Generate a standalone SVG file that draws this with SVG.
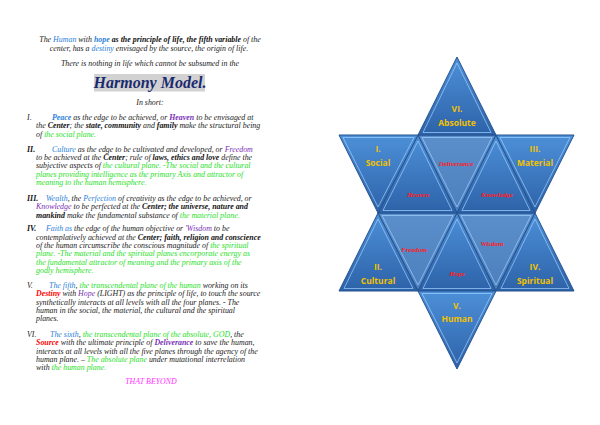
<svg xmlns="http://www.w3.org/2000/svg" width="600" height="425" viewBox="0 0 600 425">
<defs>
<linearGradient id="gOut" x1="0" y1="0" x2="0" y2="1">
<stop offset="0" stop-color="#4d90d8"/><stop offset="1" stop-color="#2d62a8"/>
</linearGradient>
<linearGradient id="gIn" x1="0" y1="0" x2="0" y2="1">
<stop offset="0" stop-color="#5b8fcb"/><stop offset="1" stop-color="#4c7fbd"/>
</linearGradient>
<style>
.t{font-family:"Liberation Serif",serif;font-style:italic;font-size:7.9px;fill:#222}
.c{text-anchor:middle}
.b{font-weight:bold;fill:#111}
.bl{fill:#2b82d9}
.pu{fill:#7b2fb5}
.gr{fill:#1fe01f}
.rd{fill:#ff0000}
.mg{fill:#ff33ff}
.tri{fill:url(#gOut);stroke:#24528f;stroke-width:1}
.inn{fill:url(#gIn);stroke:#24528f;stroke-width:1}
.hl{fill:none;stroke:#9fd0ff;stroke-width:1;opacity:0.7}
.lab{font-family:"Open Sans",sans-serif;font-weight:bold;font-size:8.5px;fill:#f2c200;text-anchor:middle}
.rl{font-family:"Liberation Serif",serif;font-style:italic;font-weight:bold;font-size:7px;fill:#ff1a1a;text-anchor:middle}
</style>
</defs>
<rect width="600" height="425" fill="#ffffff"/>

<g id="text">
<text class="t c" x="150" y="42">The <tspan class="bl">Human</tspan> with <tspan class="bl b">hope</tspan> <tspan class="b">as the principle of life, the fifth variable</tspan> of the</text>
<text class="t c" x="149" y="50.5">center, has a <tspan class="bl">destiny</tspan> envisaged by the source, the origin of life.</text>
<text class="t c" x="150" y="66">There is nothing in life which cannot be subsumed in the</text>
<rect x="94" y="74" width="111" height="17.5" fill="#d2d2d2"/>
<text x="150" y="88" text-anchor="middle" font-family="Liberation Serif,serif" font-style="italic" font-weight="bold" font-size="16" fill="#1a2a6e">Harmony Model.</text>
<text class="t c" x="150" y="105">In short:</text>

<text class="t" x="27" y="120">I.</text>
<text class="t" x="52" y="120"><tspan class="bl b">Peace</tspan> as the edge to be achieved, or <tspan class="pu b">Heaven</tspan> to be envisaged at</text>
<text class="t" x="36" y="128.3">the <tspan class="b">Center</tspan>; the <tspan class="b">state, community</tspan> and <tspan class="b">family</tspan> make the structural being</text>
<text class="t" x="36" y="136.6">of <tspan class="gr">the social plane.</tspan></text>

<text class="t b" x="27" y="151.8">II.</text>
<text class="t" x="52" y="151.8"><tspan class="bl">Culture</tspan> as the edge to be cultivated and developed, or <tspan class="pu">Freedom</tspan></text>
<text class="t" x="36" y="160">to be achieved at the <tspan class="b">Center</tspan>; rule of <tspan class="b">laws, ethics and love</tspan> define the</text>
<text class="t" x="36" y="168.3">subjective aspects of <tspan class="gr">the cultural plane. -The social and the cultural</tspan></text>
<text class="t gr" x="36" y="176.7">planes providing intelligence as the primary Axis and attractor of</text>
<text class="t gr" x="36" y="185">meaning to the human hemisphere.</text>

<text class="t b" x="27" y="200.8">III.</text>
<text class="t" x="46" y="200.8"><tspan class="bl">Wealth</tspan>, the <tspan class="bl">Perfection</tspan> of creativity as the edge to be achieved, or</text>
<text class="t" x="36" y="209.2"><tspan class="pu">Knowledge</tspan> to be perfected at the <tspan class="b">Center; the universe, nature and</tspan></text>
<text class="t" x="36" y="217.5"><tspan class="b">mankind</tspan> make the fundamental substance of <tspan class="gr">the material plane.</tspan></text>

<text class="t b" x="27" y="231.2">IV.</text>
<text class="t" x="46" y="231.2"><tspan class="bl">Faith as</tspan> the edge of the human objective or <tspan class="pu">'Wisdom</tspan> to be</text>
<text class="t" x="36" y="239.5">contemplatively achieved at the <tspan class="b">Center; faith, religion and conscience</tspan></text>
<text class="t" x="36" y="247.8">of the human circumscribe the conscious magnitude of <tspan class="gr">the spiritual</tspan></text>
<text class="t gr" x="36" y="256.2">plane. -The material and the spiritual planes encorporate energy as</text>
<text class="t gr" x="36" y="264.5">the fundamental attractor of meaning and the primary axis of the</text>
<text class="t gr" x="36" y="272.8">godly hemisphere.</text>

<text class="t" x="27" y="288.2">V.</text>
<text class="t" x="49" y="288.2"><tspan class="bl">The fifth</tspan>, <tspan class="gr">the transcendental plane of the human</tspan> working on its</text>
<text class="t" x="36" y="296.3"><tspan class="rd b">Destiny</tspan> with <tspan class="pu">Hope</tspan> (LIGHT) as the principle of life, to touch the source</text>
<text class="t" x="36" y="304.7">synthetically interacts at all levels with all the four planes.    - The</text>
<text class="t" x="36" y="313">human in the social, the material, the cultural and the spiritual</text>
<text class="t" x="36" y="321">planes.</text>

<text class="t" x="27" y="336.5">VI.</text>
<text class="t" x="50" y="336.5"><tspan class="bl">The sixth</tspan>, <tspan class="gr">the transcendental plane of the absolute, GOD</tspan>, the</text>
<text class="t" x="36" y="345"><tspan class="rd b">Source</tspan> with the ultimate principle of <tspan class="pu b">Deliverance</tspan> to save the human,</text>
<text class="t" x="36" y="353.5">interacts at all levels with all the five planes through the agency of the</text>
<text class="t" x="36" y="361.8">human plane. – <tspan class="gr">The absolute plane</tspan> under mutational interrelation</text>
<text class="t" x="36" y="370">with <tspan class="gr">the human plane.</tspan></text>

<text class="t c mg" x="151" y="384">THAT BEYOND</text>
</g>

<g id="star">
<g id="inner-deliverance"><polygon class="inn" points="418,135 496,135 457,213"/><polygon class="hl" points="422,137.5 492,137.5 457,207"/><text class="rl" x="456" y="165.5">Deliverance</text></g>
<g id="inner-freedom"><polygon class="inn" points="378,213 457,213 418,291"/><polygon class="hl" points="382,215.5 453,215.5 418,285"/><text class="rl" x="414" y="251.5">Freedom</text></g>
<g id="inner-wisdom"><polygon class="inn" points="457,213 535,213 496,291"/><polygon class="hl" points="461,215.5 531,215.5 496,285"/><text class="rl" x="492" y="246">Wisdom</text></g>
<g id="inner-heaven"><polygon class="tri" points="418,135 457,213 378,213"/><polygon class="hl" points="418,141 452,210.5 383,210.5"/><text class="rl" x="418" y="197">Heaven</text></g>
<g id="inner-knowledge"><polygon class="tri" points="496,135 535,213 457,213"/><polygon class="hl" points="496,141 530,210.5 462,210.5"/><text class="rl" x="497" y="197">Knowledge</text></g>
<g id="inner-hope"><polygon class="tri" points="457,213 496,291 418,291"/><polygon class="hl" points="457,219 491,288.5 423,288.5"/><text class="rl" x="457" y="275.5">Hope</text></g>

<g id="absolute"><polygon class="tri" points="457,57 496,135 418,135"/><polygon class="hl" points="457,63 491,132.5 423,132.5"/><text class="lab" x="457" y="112">VI.</text><text class="lab" x="457" y="125.5">Absolute</text></g>
<g id="social"><polygon class="tri" points="339,135 418,135 378,213"/><polygon class="hl" points="343,137.5 414,137.5 378,207"/><text class="lab" x="378" y="152">I.</text><text class="lab" x="378" y="165.5">Social</text></g>
<g id="material"><polygon class="tri" points="496,135 574,135 535,213"/><polygon class="hl" points="500,137.5 570,137.5 535,207"/><text class="lab" x="535" y="152">III.</text><text class="lab" x="535" y="165.5">Material</text></g>
<g id="cultural"><polygon class="tri" points="378,213 418,291 339,291"/><polygon class="hl" points="378,219 413,288.5 344,288.5"/><text class="lab" x="378" y="270">II.</text><text class="lab" x="378" y="283.5">Cultural</text></g>
<g id="spiritual"><polygon class="tri" points="535,213 574,291 496,291"/><polygon class="hl" points="535,219 569,288.5 501,288.5"/><text class="lab" x="535" y="270">IV.</text><text class="lab" x="535" y="283.5">Spiritual</text></g>
<g id="human"><polygon class="tri" points="418,291 496,291 457,369"/><polygon class="hl" points="422,293.5 492,293.5 457,363"/><text class="lab" x="457" y="309">V.</text><text class="lab" x="457" y="322">Human</text></g>
</g>
<g id="connectors"/>
</svg>
